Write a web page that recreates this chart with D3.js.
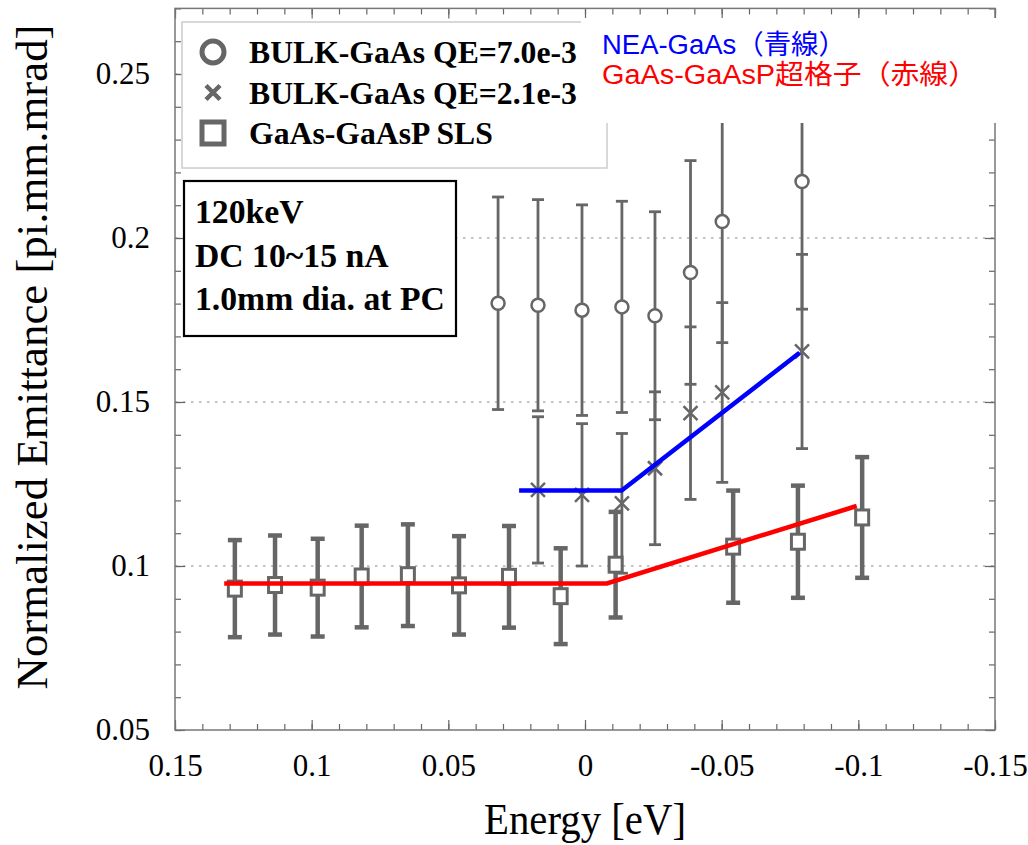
<!DOCTYPE html>
<html>
<head>
<meta charset="utf-8">
<script src="https://cdn.jsdelivr.net/npm/d3@7"></script>
<style>
  body { margin: 0; background: #fff; }
  svg { display: block; }
</style>
</head>
<body>
<div id="chart"></div>
<script>
// QE=7.0e-3 bulk GaAs (circles)
const bulkHiE    = [0.0318, 0.0172, 0.0011, -0.0135, -0.0256, -0.0386, -0.0502, -0.0794]
const bulkHiEmit = [0.1801, 0.1795, 0.1780, 0.1790, 0.1763, 0.1895, 0.2050, 0.2172]
const bulkHiErr  = [0.0324, 0.0322, 0.0321, 0.0322, 0.0317, 0.0341, 0.0369, 0.0389]
// QE=2.1e-3 bulk GaAs (crosses)
const bulkLoE    = [0.0172, 0.0011, -0.0135, -0.0256, -0.0386, -0.0502, -0.0794]
const bulkLoEmit = [0.1232, 0.1217, 0.1191, 0.1298, 0.1466, 0.1529, 0.1654]
const bulkLoErr  = [0.0223, 0.0217, 0.0213, 0.0233, 0.0263, 0.0274, 0.0296]
// GaAs-GaAsP SLS (squares)
const slsE    = [0.1281, 0.1134, 0.0978, 0.0817, 0.0648, 0.0461, 0.0278, 0.0089, -0.0112, -0.0542, -0.0779, -0.1014]
const slsEmit = [0.0931, 0.0942, 0.0934, 0.0968, 0.0972, 0.0941, 0.0967, 0.0908, 0.1004, 0.1059, 0.1074, 0.1148]
const slsErr  = [0.0148, 0.0151, 0.0149, 0.0155, 0.0155, 0.0150, 0.0155, 0.0146, 0.0161, 0.0171, 0.0171, 0.0184]
// guide lines
const neaLineE    = [0.0241, -0.0134, -0.0785]
const neaLineEmit = [0.1230, 0.1230, 0.1650]
const slsLineE    = [0.1320, -0.0080, -0.0994]
const slsLineEmit = [0.0947, 0.0947, 0.1183]

const xMajor = [0.15, 0.1, 0.05, 0, -0.05, -0.1, -0.15]
const yMajor = [0.05, 0.1, 0.15, 0.2, 0.25]
const yGrid  = [0.1, 0.15, 0.2, 0.25]

const legendLabels = ["BULK-GaAs QE=7.0e-3", "BULK-GaAs QE=2.1e-3", "GaAs-GaAsP SLS"]
const infoLines = ["120keV", "DC 10~15 nA", "1.0mm dia. at PC"]
const noteLines = ["NEA-GaAs（青線）", "GaAs-GaAsP超格子（赤線）"]

var W = 1028, H = 845
var gray = "#666"
var serif = "'Liberation Serif', 'Times New Roman', serif"
var sans = "'Liberation Sans', Arial, 'Noto Sans CJK JP', sans-serif"

var svg = d3.select("#chart").append("svg")
    .attr("width", W)
    .attr("height", H)

var x = d3.scaleLinear().domain([0.15, -0.15]).range([175, 995])
var y = d3.scaleLinear().domain([0.05, 0.27]).range([730, 8.4])

var fmt = function (d) { return String(+d.toFixed(2)) }
var xMinor = d3.range(-15, 16).map(function (i) { return i / 100 })
var yMinor = d3.range(5, 28).map(function (i) { return i / 100 })

// dotted grid
svg.append("g").selectAll("line")
  .data(yGrid)
  .enter().append("line")
  .attr("x1", x(0.15)).attr("x2", x(-0.15))
  .attr("y1", function (d) { return y(d) }).attr("y2", function (d) { return y(d) })
  .attr("stroke", "#888").attr("stroke-width", 1.2)
  .attr("stroke-dasharray", "2.5,5.5")

// axes (ticks point inward)
function styleAxis(g) {
  g.select(".domain").remove()
  g.selectAll(".tick line").attr("stroke", gray).attr("stroke-width", 1.2)
  g.selectAll("text").attr("fill", "#000").attr("font-family", serif).attr("font-size", 31)
}
svg.append("g").attr("transform", "translate(0,730)")
  .call(d3.axisBottom(x).tickValues(xMinor).tickSize(-6).tickFormat("")).call(styleAxis)
svg.append("g").attr("transform", "translate(0,730)")
  .call(d3.axisBottom(x).tickValues(xMajor).tickSize(-10).tickPadding(24).tickFormat(fmt)).call(styleAxis)
svg.append("g").attr("transform", "translate(0," + y(0.27) + ")")
  .call(d3.axisTop(x).tickValues(xMinor).tickSize(-6).tickFormat("")).call(styleAxis)
svg.append("g").attr("transform", "translate(0," + y(0.27) + ")")
  .call(d3.axisTop(x).tickValues(xMajor).tickSize(-10).tickFormat("")).call(styleAxis)
svg.append("g").attr("transform", "translate(175,0)")
  .call(d3.axisLeft(y).tickValues(yMinor).tickSize(-6).tickFormat("")).call(styleAxis)
svg.append("g").attr("transform", "translate(175,0)")
  .call(d3.axisLeft(y).tickValues(yMajor).tickSize(-10).tickPadding(25).tickFormat(fmt)).call(styleAxis)
svg.append("g").attr("transform", "translate(995,0)")
  .call(d3.axisRight(y).tickValues(yMinor).tickSize(-6).tickFormat("")).call(styleAxis)
svg.append("g").attr("transform", "translate(995,0)")
  .call(d3.axisRight(y).tickValues(yMajor).tickSize(-10).tickFormat("")).call(styleAxis)

svg.append("rect")
  .attr("x", x(0.15)).attr("y", y(0.27))
  .attr("width", x(-0.15) - x(0.15)).attr("height", y(0.05) - y(0.27))
  .attr("fill", "none").attr("stroke", "#777").attr("stroke-width", 1.5)

// axis titles
svg.append("text")
  .attr("x", 585).attr("y", 834)
  .attr("text-anchor", "middle")
  .attr("font-family", serif).attr("font-size", 45)
  .attr("textLength", 202).attr("lengthAdjust", "spacingAndGlyphs")
  .text("Energy [eV]")
svg.append("text")
  .attr("transform", "translate(47,357) rotate(-90)")
  .attr("text-anchor", "middle")
  .attr("font-family", serif).attr("font-size", 45)
  .attr("textLength", 665).attr("lengthAdjust", "spacingAndGlyphs")
  .text("Normalized Emittance [pi.mm.mrad]")

// legend
svg.append("rect")
  .attr("x", 182).attr("y", 22).attr("width", 425).attr("height", 146)
  .attr("fill", "#fff").attr("stroke", "#ccc").attr("stroke-width", 1.5)
var legend = svg.append("g").selectAll("g")
  .data(legendLabels)
  .enter().append("g")
  .attr("transform", function (d, i) { return "translate(213," + (52 + i * 40.5) + ")" })
legend.append("text")
  .attr("x", 36).attr("y", 11)
  .attr("font-family", serif).attr("font-weight", "bold").attr("font-size", 31.7)
  .text(function (d) { return d })
legend.filter(function (d, i) { return i === 0 }).append("circle")
  .attr("r", 11).attr("fill", "none").attr("stroke", gray).attr("stroke-width", 5)
legend.filter(function (d, i) { return i === 1 }).append("path")
  .attr("d", "M-7,-7L7,7M-7,7L7,-7").attr("stroke", gray).attr("stroke-width", 4.5)
legend.filter(function (d, i) { return i === 2 }).append("rect")
  .attr("x", -11).attr("y", -11).attr("width", 22).attr("height", 22)
  .attr("fill", "none").attr("stroke", gray).attr("stroke-width", 5)

// conditions box
svg.append("rect")
  .attr("x", 184).attr("y", 181).attr("width", 272).attr("height", 155)
  .attr("fill", "#fff").attr("stroke", "#000").attr("stroke-width", 2.2)
svg.append("g").selectAll("text")
  .data(infoLines)
  .enter().append("text")
  .attr("x", 195).attr("y", function (d, i) { return 223 + i * 43.5 })
  .attr("font-family", serif).attr("font-weight", "bold").attr("font-size", 33.7)
  .text(function (d) { return d })

// error bars
function errorBars(E, V, err, width, capHalf) {
  var g = svg.append("g").attr("stroke", gray).attr("stroke-width", width).attr("fill", "none")
  var data = E.map(function (e, i) { return { e: e, v: V[i], s: err[i] } })
  g.selectAll(".stem").data(data).enter().append("line")
    .attr("x1", function (d) { return x(d.e) }).attr("x2", function (d) { return x(d.e) })
    .attr("y1", function (d) { return y(d.v - d.s) }).attr("y2", function (d) { return y(d.v + d.s) })
  g.selectAll(".capTop").data(data).enter().append("line")
    .attr("x1", function (d) { return x(d.e) - capHalf }).attr("x2", function (d) { return x(d.e) + capHalf })
    .attr("y1", function (d) { return y(d.v + d.s) }).attr("y2", function (d) { return y(d.v + d.s) })
  g.selectAll(".capBot").data(data).enter().append("line")
    .attr("x1", function (d) { return x(d.e) - capHalf }).attr("x2", function (d) { return x(d.e) + capHalf })
    .attr("y1", function (d) { return y(d.v - d.s) }).attr("y2", function (d) { return y(d.v - d.s) })
  return data
}

var hi = errorBars(bulkHiE, bulkHiEmit, bulkHiErr, 2.8, 6)
var lo = errorBars(bulkLoE, bulkLoEmit, bulkLoErr, 2.8, 6)
var sl = errorBars(slsE, slsEmit, slsErr, 4.5, 7)

svg.append("g").selectAll("circle")
  .data(hi).enter().append("circle")
  .attr("cx", function (d) { return x(d.e) }).attr("cy", function (d) { return y(d.v) })
  .attr("r", 6.5).attr("fill", "#fff").attr("stroke", gray).attr("stroke-width", 2.5)

svg.append("g").selectAll("path")
  .data(lo).enter().append("path")
  .attr("transform", function (d) { return "translate(" + x(d.e) + "," + y(d.v) + ")" })
  .attr("d", "M-7,-7L7,7M-7,7L7,-7")
  .attr("stroke", gray).attr("stroke-width", 2.5)

svg.append("g").selectAll("rect")
  .data(sl).enter().append("rect")
  .attr("x", function (d) { return x(d.e) - 6.5 }).attr("y", function (d) { return y(d.v) - 7.5 })
  .attr("width", 13).attr("height", 15)
  .attr("fill", "#fff").attr("stroke", gray).attr("stroke-width", 3)

// guide lines
var line = d3.line()
  .x(function (d) { return x(d[0]) })
  .y(function (d) { return y(d[1]) })
svg.append("path")
  .attr("d", line(neaLineE.map(function (e, i) { return [e, neaLineEmit[i]] })))
  .attr("fill", "none").attr("stroke", "#0000ff").attr("stroke-width", 4.5)
svg.append("path")
  .attr("d", line(slsLineE.map(function (e, i) { return [e, slsLineEmit[i]] })))
  .attr("fill", "none").attr("stroke", "#ff0000").attr("stroke-width", 4.5)

// note
svg.append("rect")
  .attr("x", 581).attr("y", 18).attr("width", 430).attr("height", 105)
  .attr("fill", "#fff")
var noteWidths = [244, 375]
svg.append("g").selectAll("text")
  .data(noteLines)
  .enter().append("text")
  .attr("x", 602).attr("y", function (d, i) { return 54 + i * 30 })
  .attr("font-family", sans).attr("font-size", 27)
  .attr("textLength", function (d, i) { return noteWidths[i] })
  .attr("lengthAdjust", "spacingAndGlyphs")
  .attr("fill", function (d, i) { return i === 0 ? "#0000ff" : "#ff0000" })
  .text(function (d) { return d })
</script>
</body>
</html>
